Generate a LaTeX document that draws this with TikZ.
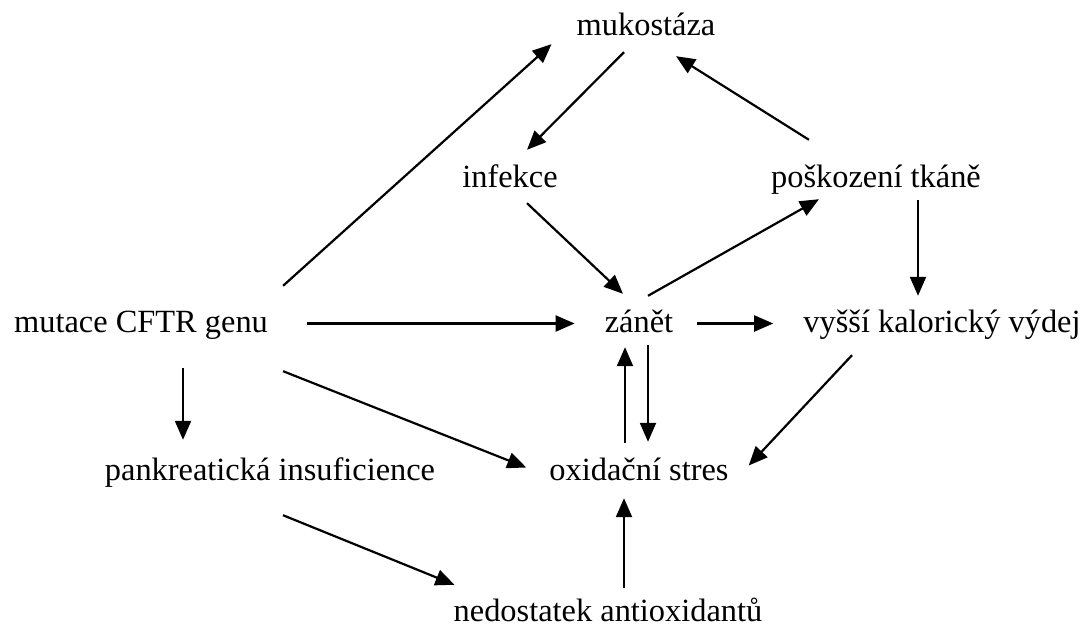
\documentclass[tikz,border=0pt]{standalone}
\usepackage{fontspec}
\setmainfont{Liberation Serif}
\usetikzlibrary{arrows.meta}
\tikzstyle{term} = [inner sep=0pt, anchor=base, text height=22pt, text depth=7pt,
font=\fontsize{32.4}{38}\selectfont]
\tikzstyle{myarrow} = [-{Triangle[length=19pt, width=16pt]}, line width=2.2pt]

\begin{document}
\begin{tikzpicture}[x=1pt, y=-1pt]
        \useasboundingbox (0,0) rectangle (1085,636);
        % terms
        \node[term] (muk) at (646,36) {mukostáza};
        \node[term] (inf) at (510,188) {infekce};
        \node[term] (pos) at (876,188) {poškození tkáně};
        \node[term] (mut) at (141,333) {mutace CFTR genu};
        \node[term] (zan) at (639,333) {zánět};
        \node[term] (vys) at (942,333) {vyšší kalorický výdej};
        \node[term] (pan) at (270,480) {pankreatická insuficience};
        \node[term] (oxi) at (639,480) {oxidační stres};
        \node[term] (ned) at (608,621) {nedostatek antioxidantů};
        % arrows
        \draw[myarrow] ([shift={(15,-25)}]mut.north east) -- ([shift={(-25,1)}]muk.south west);
        \draw[myarrow] ([shift={(-22,9)}]muk.south) -- ([shift={(17,-16)}]inf.north);
        \draw[myarrow] ([shift={(38,-26)}]pos.north west) -- ([shift={(30,13)}]muk.south);
        \draw[myarrow] ([shift={(17,8)}]inf.south) -- ([shift={(-16,-17)}]zan.north);
        \draw[myarrow] ([shift={(9,-15)}]zan.north) -- ([shift={(48,4)}]pos.south west);
        \draw[myarrow] ([shift={(42,5)}]pos.south) -- ([shift={(-24,-15)}]vys.north);
        \draw[myarrow] ([shift={(39,-2)}]mut.east) -- ([shift={(-30,-2)}]zan.west);
        \draw[myarrow] ([shift={(24,-2)}]zan.east) -- ([shift={(-30,-2)}]vys.west);
        \draw[myarrow] ([shift={(42,28)}]mut.south) -- ([shift={(-87,-18)}]pan.north);
        \draw[myarrow] ([shift={(15,31)}]mut.south east) -- ([shift={(-23,-5)}]oxi.west);
        \draw[myarrow] ([shift={(-14,-15)}]oxi.north) -- ([shift={(-14,7)}]zan.south);
        \draw[myarrow] ([shift={(9,5)}]zan.south) -- ([shift={(9,-16)}]oxi.north);
        \draw[myarrow] ([shift={(-90,15)}]vys.south) -- ([shift={(20,-7)}]oxi.east);
        \draw[myarrow] ([shift={(13,28)}]pan.south) -- ([shift={(1,-14)}]ned.north west);
        \draw[myarrow] ([shift={(16,-11)}]ned.north) -- ([shift={(-15,11)}]oxi.south);
\end{tikzpicture}
\end{document}
